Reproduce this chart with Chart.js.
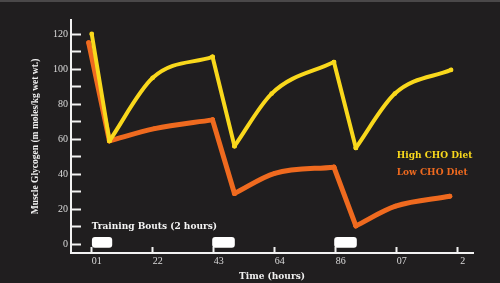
<!DOCTYPE html>
<html>
<head>
<meta charset="utf-8">
<script src="https://cdn.jsdelivr.net/npm/chart.js@4"></script>
<style>
  html, body { margin: 0; padding: 0; background: #201e1f; }
  #wrap { position: relative; width: 500px; height: 283px; }
  #topline { position: absolute; left: 0; top: 0; width: 500px; height: 2px; background: #4a4849; }
</style>
</head>
<body>
<div id="wrap">
  <canvas id="chart" width="500" height="283"></canvas>
  <div id="topline"></div>
</div>
<script>
// Axis labels
const xTickLabels = ['01', '22', '43', '64', '86', '07', '2'];
const yTickValues = [0, 10, 20, 30, 40, 50, 60, 70, 80, 90, 100, 110, 120];

// Muscle glycogen, high carbohydrate diet
const highTime  = [0, 0.29, 1.0, 1.98, 2.34, 2.95, 3.97, 4.33, 4.97, 5.89];
const highValue = [120, 59, 95, 107, 56, 86, 104, 55, 86, 99.5];

// Muscle glycogen, low carbohydrate diet
const lowTime  = [-0.05, 0.29, 1.03, 1.98, 2.34, 3.0, 3.97, 4.33, 4.98, 5.87];
const lowValue = [115, 59, 66, 71, 29, 40.5, 44, 10.5, 21.7, 27.4];

// Training bouts (start / end on the time axis)
const boutStart = [0, 1.98, 3.98];
const boutEnd   = [0.33, 2.34, 4.34];
const boutLevel = 1.1;

const YELLOW = '#f9d81c';
const ORANGE = '#ef6a1f';
const AXIS = '#f2f2f2';
const TEXT = '#dcdcdc';

// Split a series into falling (straight) and rising (smooth) runs
function buildSegments(times, values, color, width) {
  const runs = [];
  let run = [{ x: times[0], y: values[0] }];
  let rising = values[1] > values[0];
  for (let i = 1; i < times.length; i++) {
    const up = values[i] > values[i - 1];
    if (up !== rising) {
      runs.push({ pts: run, curved: rising });
      run = [{ x: times[i - 1], y: values[i - 1] }];
      rising = up;
    }
    run.push({ x: times[i], y: values[i] });
  }
  runs.push({ pts: run, curved: rising });
  return runs.map(r => ({
    type: 'line',
    data: r.pts,
    borderColor: color,
    backgroundColor: color,
    borderWidth: width,
    borderCapStyle: 'round',
    borderJoinStyle: 'round',
    cubicInterpolationMode: r.curved ? 'monotone' : 'default',
    tension: 0,
    pointRadius: 2.4,
    pointBorderWidth: 0,
    pointHoverRadius: 0,
    fill: false
  }));
}

const boutData = boutStart.map((s, i) => ({ x: [s, boutEnd[i]], y: boutLevel }));

const datasets = [
  ...buildSegments(highTime, highValue, YELLOW, 4),
  ...buildSegments(lowTime, lowValue, ORANGE, 5),
  {
    type: 'bar',
    indexAxis: 'y',
    data: boutData,
    backgroundColor: '#ffffff',
    borderWidth: 0,
    borderRadius: 3,
    borderSkipped: false,
    barThickness: 10
  }
];

const notes = [
  { text: 'Training Bouts (2 hours)', x: 0, y: 10.3, color: '#f4f4f4' },
  { text: 'High CHO Diet', x: 5.0, y: 50.3, color: YELLOW },
  { text: 'Low CHO Diet', x: 5.0, y: 40.6, color: ORANGE }
];

const noteLayer = {
  id: 'notes',
  afterDatasetsDraw(chart) {
    const { ctx, scales: { x, y } } = chart;
    ctx.save();
    ctx.font = 'bold 9px "DejaVu Serif"';
    ctx.textAlign = 'left';
    ctx.textBaseline = 'middle';
    notes.forEach(n => {
      ctx.fillStyle = n.color;
      ctx.fillText(n.text, x.getPixelForValue(n.x), y.getPixelForValue(n.y));
    });
    ctx.restore();
  }
};

new Chart(document.getElementById('chart'), {
  type: 'line',
  data: { datasets },
  plugins: [noteLayer],
  options: {
    responsive: false,
    animation: false,
    events: [],
    layout: { padding: { top: 20, right: 27, left: 0, bottom: 0 } },
    plugins: { legend: { display: false }, tooltip: { enabled: false } },
    scales: {
      x: {
        type: 'linear',
        min: -0.34,
        max: 6.25,
        offset: false,
        afterBuildTicks: s => { s.ticks = xTickLabels.map((_, i) => ({ value: i })); },
        afterFit: s => { s.height = 30; },
        border: { display: true, color: AXIS, width: 2 },
        grid: { display: true, offset: false, drawOnChartArea: false, drawTicks: true, tickLength: -6, tickWidth: 2, tickColor: AXIS },
        ticks: {
          padding: 8,
          labelOffset: 5,
          maxRotation: 0,
          autoSkip: false,
          color: TEXT,
          font: { family: '"Liberation Serif"', size: 10 },
          callback: v => xTickLabels[v]
        },
        title: {
          display: true,
          text: 'Time (hours)',
          color: '#f0f0f0',
          font: { family: '"DejaVu Serif"', size: 9, weight: 'bold' },
          padding: { top: 0, bottom: 1 }
        }
      },
      y: {
        type: 'linear',
        min: -5,
        max: 128,
        offset: false,
        afterBuildTicks: s => { s.ticks = yTickValues.map(v => ({ value: v })); },
        afterFit: s => { s.width = 71; },
        border: { display: true, color: AXIS, width: 2 },
        grid: { display: true, offset: false, drawOnChartArea: false, drawTicks: true, tickLength: -10, tickWidth: 2, tickColor: AXIS },
        ticks: {
          padding: 13,
          color: TEXT,
          font: { family: '"Liberation Serif"', size: 10 },
          callback: v => (v % 20 === 0 ? String(v) : '')
        },
        title: {
          display: true,
          text: 'Muscle Glycogen (m moles/kg wet wt.)',
          color: '#f0f0f0',
          font: { family: '"Liberation Serif"', size: 9.5, weight: 'bold' },
          padding: { top: 30, bottom: 0 }
        }
      }
    }
  }
});
</script>
</body>
</html>
